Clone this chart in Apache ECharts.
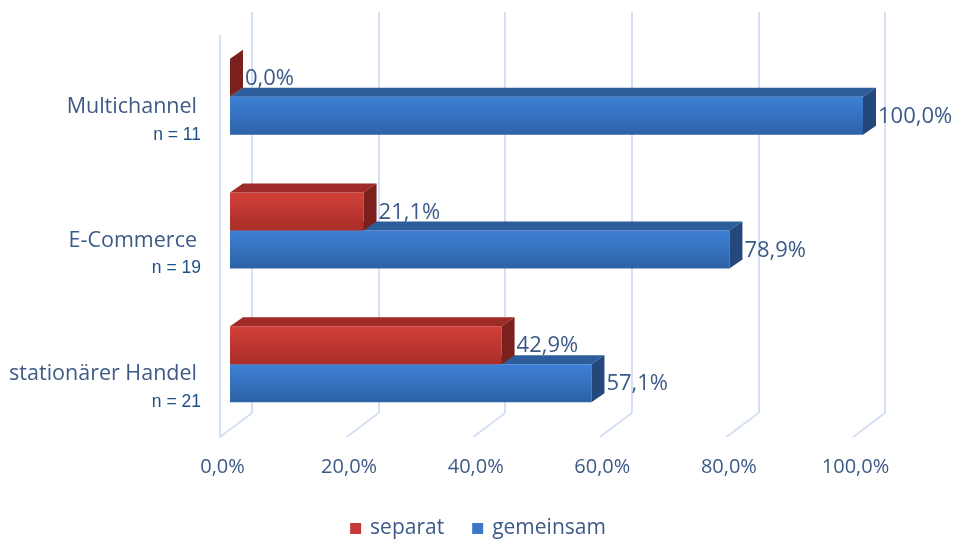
<!DOCTYPE html>
<html>
<head>
<meta charset="utf-8">
<script src="https://cdn.jsdelivr.net/npm/echarts@6/dist/echarts.min.js"></script>
<style>
html,body{margin:0;padding:0;background:#fff;}
#chart{width:956px;height:543px;}
</style>
</head>
<body>
<div id="chart"></div>
<script>
const categories = ['stationärer Handel', 'E-Commerce', 'Multichannel'];
const sampleSizes = ['n = 21', 'n = 19', 'n = 11'];
const separat = [42.9, 21.1, 0.0];
const gemeinsam = [57.1, 78.9, 100.0];
const ticks = [0, 20, 40, 60, 80, 100];

const FONT = 'Open Sans';
const fmt = v => v.toFixed(1).replace('.', ',') + '%';
const chart = echarts.init(document.getElementById('chart'));

const DX = 13, DY = -9;          // bar depth projection
const WALL_DX = 32, WALL_DY = -24; // floor depth projection
const gridColor = '#d3e1f3';

const palettes = {
  separat: { front: ['#d4403a', '#a82d29'], top: '#9e2b27', side: '#7a201d', legend: '#c8393a' },
  gemeinsam: { front: ['#3e80d6', '#2c62a6'], top: '#2e5d9b', side: '#23487c', legend: '#3a78c8' }
};

function barRenderer(name, upper) {
  const pal = palettes[name];
  return function (params, api) {
    const v = api.value(0), c = api.value(1);
    const p0 = api.coord([0, c]);
    const p1 = api.coord([v, c]);
    const bw = api.size([0, 1])[1] * 0.284;
    const x0 = p0[0], x1 = p1[0], yc = p0[1];
    const yTop = upper ? yc - bw : yc;
    const yBot = upper ? yc : yc + bw;
    const children = [];
    if (x1 - x0 > 0.5) {
      children.push({
        type: 'rect',
        shape: { x: x0, y: yTop, width: x1 - x0, height: yBot - yTop },
        style: { fill: new echarts.graphic.LinearGradient(0, 0, 0, 1, [
          { offset: 0, color: pal.front[0] }, { offset: 1, color: pal.front[1] }]) }
      });
      children.push({
        type: 'polygon',
        shape: { points: [[x0, yTop], [x1, yTop], [x1 + DX, yTop + DY], [x0 + DX, yTop + DY]] },
        style: { fill: pal.top }
      });
    }
    children.push({
      type: 'polygon',
      shape: { points: [[x1, yTop], [x1 + DX, yTop + DY], [x1 + DX, yBot + DY], [x1, yBot]] },
      style: { fill: pal.side }
    });
    children.push({
      type: 'text',
      style: {
        x: x1 + DX + 2, y: (yTop + yBot) / 2 + 1, text: fmt(v),
        fill: '#3b5a88', font: '22px "' + FONT + '"', align: 'left', verticalAlign: 'middle'
      }
    });
    return { type: 'group', children: children };
  };
}

const option = {
  backgroundColor: '#ffffff',
  animation: false,
  legend: {
    data: ['separat', 'gemeinsam'],
    left: 'center',
    top: 513,
    icon: 'rect',
    itemWidth: 11,
    itemHeight: 11,
    itemGap: 28,
    textStyle: { fontFamily: FONT, fontSize: 21, color: '#3d5a86', padding: [0, 0, 0, 4] }
  },
  grid: [
    { left: 252, right: 71, top: 12, bottom: 130 },   // back wall
    { left: 220, right: 103, top: 36, bottom: 106 },  // front floor
    { left: 230, right: 93, top: 30, bottom: 112 }    // bar plane
  ],
  xAxis: [
    { gridIndex: 0, type: 'value', min: 0, max: 100, interval: 20,
      axisLabel: { show: false }, axisLine: { show: false }, axisTick: { show: false },
      splitLine: { show: true, lineStyle: { color: gridColor, width: 2 } } },
    { gridIndex: 1, type: 'value', min: 0, max: 100, interval: 20,
      axisLine: { show: false }, axisTick: { show: false }, splitLine: { show: false },
      axisLabel: { margin: 20, formatter: v => fmt(v), fontFamily: FONT, fontSize: 20, color: '#3d5a86',
                   padding: [0, 0, 0, 5] } },
    { gridIndex: 2, type: 'value', min: 0, max: 100, interval: 20, show: false }
  ],
  yAxis: [
    { gridIndex: 0, type: 'category', data: categories, show: false },
    { gridIndex: 1, type: 'category', data: categories,
      axisLine: { show: true, lineStyle: { color: gridColor, width: 2 } },
      axisTick: { show: false },
      axisLabel: {
        margin: 19,
        padding: [36, 0, 0, 0],
        formatter: (val, idx) => '{a|' + val + '}\n{b|' + sampleSizes[idx] + '}',
        rich: {
          a: { fontFamily: FONT, fontSize: 21.5, lineHeight: 28, color: '#3d5a86', align: 'right', padding: [0, 4, 0, 0] },
          b: { fontFamily: 'Liberation Sans', fontSize: 17.5, lineHeight: 28, color: '#1f4f8a', align: 'right' }
        }
      } },
    { gridIndex: 2, type: 'category', data: categories, show: false }
  ],
  series: [
    {
      name: 'floor', type: 'custom', xAxisIndex: 1, yAxisIndex: 1, silent: true, z: 1,
      data: ticks.map(v => [v, 0]), encode: { x: 0, y: 1 },
      renderItem: function (params, api) {
        const x = api.coord([api.value(0), 0])[0];
        const yb = params.coordSys.y + params.coordSys.height;
        return { type: 'line', shape: { x1: x, y1: yb, x2: x + WALL_DX, y2: yb + WALL_DY },
          style: { stroke: gridColor, lineWidth: 2 } };
      }
    },
    {
      name: 'gemeinsam', type: 'custom', xAxisIndex: 2, yAxisIndex: 2, z: 3,
      itemStyle: { color: palettes.gemeinsam.legend },
      data: gemeinsam.map((v, i) => [v, i]), encode: { x: 0, y: 1 },
      renderItem: barRenderer('gemeinsam', false)
    },
    {
      name: 'separat', type: 'custom', xAxisIndex: 2, yAxisIndex: 2, z: 4,
      itemStyle: { color: palettes.separat.legend },
      data: separat.map((v, i) => [v, i]), encode: { x: 0, y: 1 },
      renderItem: barRenderer('separat', true)
    }
  ]
};
chart.setOption(option);
</script>
</body>
</html>
